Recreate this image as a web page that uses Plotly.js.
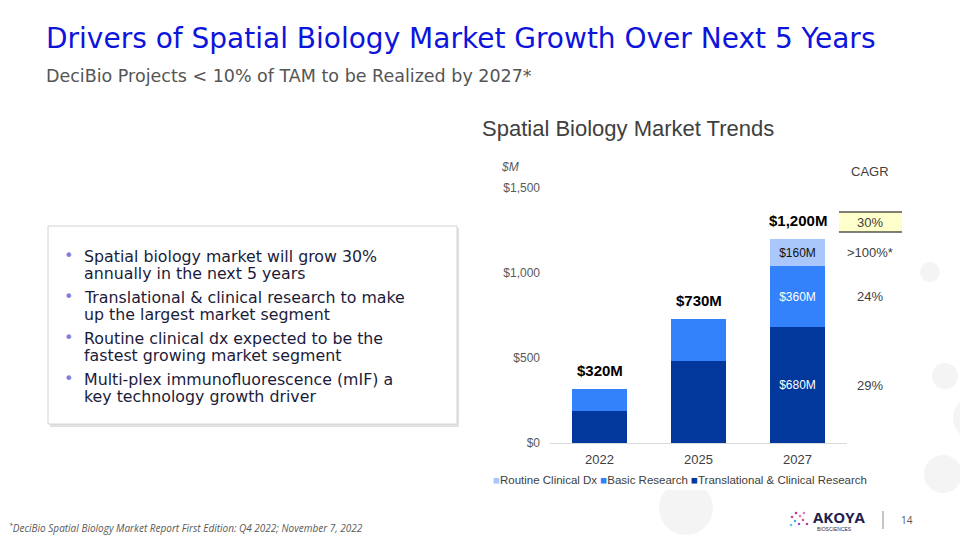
<!DOCTYPE html>
<html>
<head>
<meta charset="utf-8">
<script src="https://cdn.plot.ly/plotly-3.0.1.min.js"></script>
<style>
  html, body { margin: 0; padding: 0; background: #fff; }
  #chart { width: 960px; height: 540px; }
</style>
</head>
<body>
<div id="chart"></div>
<script>
// data ($M)
var years = ["2022", "2025", "2027"];
var translational = [190, 480, 680];
var basic = [130, 250, 360];
var routine = [0, 0, 160];
var segNames = ["Translational & Clinical Research", "Basic Research", "Routine Clinical Dx"];
var segColors = ["#02389c", "#3381fb", "#a9c7fb"];
var segCagr = ["29%", "24%", ">100%*"];
var totalCagr = "30%";
var yTicks = [0, 500, 1000, 1500];
var bullets = [
  ["Spatial biology market will grow 30%", "annually in the next 5 years"],
  ["Translational & clinical research to make", "up the largest market segment"],
  ["Routine clinical dx expected to be the", "fastest growing market segment"],
  ["Multi-plex immunofluorescence (mIF) a", "key technology growth driver"]
];

function px(x) { return x / 960; }
function py(y) { return 1 - y / 540; }
function dollars(v) { return "$" + v.toLocaleString("en-US"); }
function money(v) { return dollars(v) + "M"; }

var segs = [translational, basic, routine];
var last = years.length - 1;
var totals = years.map(function (_, i) { return translational[i] + basic[i] + routine[i]; });

var data = segs.map(function (vals, k) {
  return {
    type: "bar",
    x: years,
    y: vals,
    name: segNames[k],
    marker: {color: segColors[k]},
    text: vals.map(function (v, i) { return i === last ? money(v) : " "; }),
    textposition: "inside",
    insidetextanchor: "middle",
    textfont: {family: "Liberation Sans", size: 12, color: k === 2 ? "#111" : "#fff"},
    hoverinfo: "none",
    showlegend: false
  };
});

var anns = [];
var shapes = [];

// totals above the stacks (x given as category index)
totals.forEach(function (t, i) {
  anns.push({xref: "x", yref: "y", x: i, y: t, yanchor: "bottom", yshift: 8,
    text: "<b>" + money(t) + "</b>", showarrow: false,
    font: {family: "Liberation Sans", size: 15, color: "#000"}});
});

// slide header
anns.push({xref: "paper", yref: "paper", x: px(44), y: py(39), xanchor: "left", yanchor: "middle",
  text: "Drivers of Spatial Biology Market Growth Over Next 5 Years", showarrow: false,
  font: {family: "DejaVu Sans", size: 28, color: "#0d14dc"}});
anns.push({xref: "paper", yref: "paper", x: px(44), y: py(76), xanchor: "left", yanchor: "middle",
  text: "DeciBio Projects &lt; 10% of TAM to be Realized by 2027*", showarrow: false,
  font: {family: "DejaVu Sans", size: 17.5, color: "#555"}});

// background dots (some partly hidden behind the chart)
var dots = [[930, 272, 10], [945, 376, 13], [943, 474, 19], [975, 418, 22], [686, 508, 27], [884, 367, 21]];
dots.forEach(function (d) {
  shapes.push({type: "circle", xref: "paper", yref: "paper", layer: "below",
    x0: px(d[0] - d[2]), x1: px(d[0] + d[2]), y0: py(d[1] + d[2]), y1: py(d[1] - d[2]),
    fillcolor: "#f4f4f4", line: {width: 0}});
});
shapes.push({type: "rect", xref: "paper", yref: "paper", layer: "below",
  x0: px(640), x1: px(730), y0: py(490), y1: py(470), fillcolor: "#fff", line: {width: 0}});
shapes.push({type: "rect", xref: "paper", yref: "paper", layer: "below",
  x0: px(850), x1: px(905), y0: py(395), y1: py(340), fillcolor: "#fff", line: {width: 0}});

// bullet box
shapes.push({type: "rect", xref: "paper", yref: "paper", x0: px(50), x1: px(459), y0: py(427), y1: py(228),
  fillcolor: "#e2e2e2", line: {width: 0}});
shapes.push({type: "rect", xref: "paper", yref: "paper", x0: px(48), x1: px(457), y0: py(424), y1: py(226),
  fillcolor: "#fff", line: {color: "#d4d4d4", width: 1}});
bullets.forEach(function (b, i) {
  var y0 = 256 + i * 41;
  anns.push({xref: "paper", yref: "paper", x: px(68), y: py(y0 - 1), xanchor: "center", yanchor: "middle",
    text: "•", showarrow: false, font: {family: "DejaVu Sans", size: 16, color: "#7f7fe0"}});
  b.forEach(function (line, j) {
    anns.push({xref: "paper", yref: "paper", x: px(82), y: py(y0 + j * 17), xanchor: "left", yanchor: "middle",
      text: line.replace("&", "&amp;"), showarrow: false,
      font: {family: "DejaVu Sans", size: 15.8, color: "#1b1b3a"}});
  });
});

// chart title and unit
anns.push({xref: "paper", yref: "paper", x: px(480), y: py(128), xanchor: "left", yanchor: "middle",
  text: "Spatial Biology Market Trends", showarrow: false,
  font: {family: "Liberation Sans", size: 22, color: "#404040"}});
anns.push({xref: "paper", yref: "paper", x: px(499), y: py(167), xanchor: "left", yanchor: "middle",
  text: "<i>$M</i>", showarrow: false, font: {family: "Liberation Sans", size: 12, color: "#595959"}});

// CAGR column
anns.push({xref: "paper", yref: "paper", x: px(870), y: py(171), xanchor: "center", yanchor: "middle",
  text: "CAGR", showarrow: false, font: {family: "Liberation Sans", size: 13, color: "#404040"}});
shapes.push({type: "rect", xref: "paper", yref: "paper", x0: px(839), x1: px(902), y0: py(232), y1: py(212),
  fillcolor: "#ffffcc", line: {width: 0}});
[212, 232].forEach(function (y) {
  shapes.push({type: "line", xref: "paper", yref: "paper", x0: px(839), x1: px(902), y0: py(y), y1: py(y),
    line: {color: "#000", width: 1.2}});
});
anns.push({xref: "paper", yref: "paper", x: px(870), y: py(222), xanchor: "center", yanchor: "middle",
  text: totalCagr, showarrow: false, font: {family: "Liberation Sans", size: 13, color: "#404040"}});
var base = 0;
segs.forEach(function (vals, k) {
  var mid = base + vals[last] / 2;
  base += vals[last];
  anns.push({xref: "paper", yref: "y", x: px(870), y: mid, xanchor: "center", yanchor: "middle",
    text: segCagr[k], showarrow: false, font: {family: "Liberation Sans", size: 13, color: "#404040"}});
});

// legend drawn as one line of text
var legendOrder = [2, 1, 0];
anns.push({xref: "paper", yref: "paper", x: px(491), y: py(480), xanchor: "left", yanchor: "middle",
  text: legendOrder.map(function (k) {
    return "<span style='color:" + segColors[k] + "'>■</span>" + segNames[k].replace("&", "&amp;");
  }).join("&nbsp;"),
  showarrow: false, font: {family: "Liberation Sans", size: 11.5, color: "#404040"}});

// footer
anns.push({xref: "paper", yref: "paper", x: px(7), y: py(528), xanchor: "left", yanchor: "middle",
  text: "<i><sup>*</sup>DeciBio Spatial Biology Market Report First Edition: Q4 2022; November 7, 2022</i>",
  showarrow: false, font: {family: "Open Sans", size: 10, color: "#595959"}});
var logoDots = [[792, 517, "#e0409a"], [796, 513, "#c03090"], [800, 516, "#f070b0"], [795, 521, "#40b0e0"],
  [799, 524, "#9050c0"], [803, 520, "#e05090"], [791, 525, "#60c8e8"], [804, 513, "#d080c0"], [807, 524, "#b040a0"]];
logoDots.forEach(function (d) {
  shapes.push({type: "circle", xref: "paper", yref: "paper",
    x0: px(d[0] - 1.3), x1: px(d[0] + 1.3), y0: py(d[1] + 1.3), y1: py(d[1] - 1.3),
    fillcolor: d[2], line: {width: 0}});
});
anns.push({xref: "paper", yref: "paper", x: px(811), y: py(517), xanchor: "left", yanchor: "middle",
  text: "<b>AKOYA</b>", showarrow: false, font: {family: "Open Sans", size: 15, color: "#1f1f4f"}});
anns.push({xref: "paper", yref: "paper", x: px(815), y: py(529), xanchor: "left", yanchor: "middle",
  text: "BIOSCIENCES", showarrow: false, font: {family: "Liberation Sans", size: 5, color: "#1f1f4f"}});
shapes.push({type: "line", xref: "paper", yref: "paper", x0: px(883), x1: px(883), y0: py(529), y1: py(511),
  line: {color: "#888", width: 1}});
anns.push({xref: "paper", yref: "paper", x: px(907), y: py(520), xanchor: "center", yanchor: "middle",
  text: "14", showarrow: false, font: {family: "Open Sans", size: 10, color: "#555"}});

var layout = {
  width: 960,
  height: 540,
  margin: {l: 0, r: 0, t: 0, b: 0},
  paper_bgcolor: "rgba(0,0,0,0)",
  plot_bgcolor: "rgba(0,0,0,0)",
  barmode: "stack",
  bargap: 0.44,
  showlegend: false,
  xaxis: {
    domain: [px(550), px(847)],
    range: [-0.5, 2.5],
    type: "category",
    showline: true, linecolor: "#d9d9d9", linewidth: 1,
    showgrid: false, ticks: "",
    ticklabelstandoff: 4,
    tickfont: {family: "Liberation Sans", size: 13, color: "#404040"},
    fixedrange: true
  },
  yaxis: {
    domain: [py(443), py(188)],
    range: [0, 1500],
    tickmode: "array",
    tickvals: yTicks,
    ticktext: yTicks.map(dollars),
    showgrid: false, zeroline: false, showline: false, ticks: "",
    ticklabelstandoff: 9,
    tickfont: {family: "Liberation Sans", size: 12, color: "#595959"},
    fixedrange: true
  },
  annotations: anns,
  shapes: shapes
};

Plotly.newPlot("chart", data, layout, {displayModeBar: false, staticPlot: true});
</script>
</body>
</html>
